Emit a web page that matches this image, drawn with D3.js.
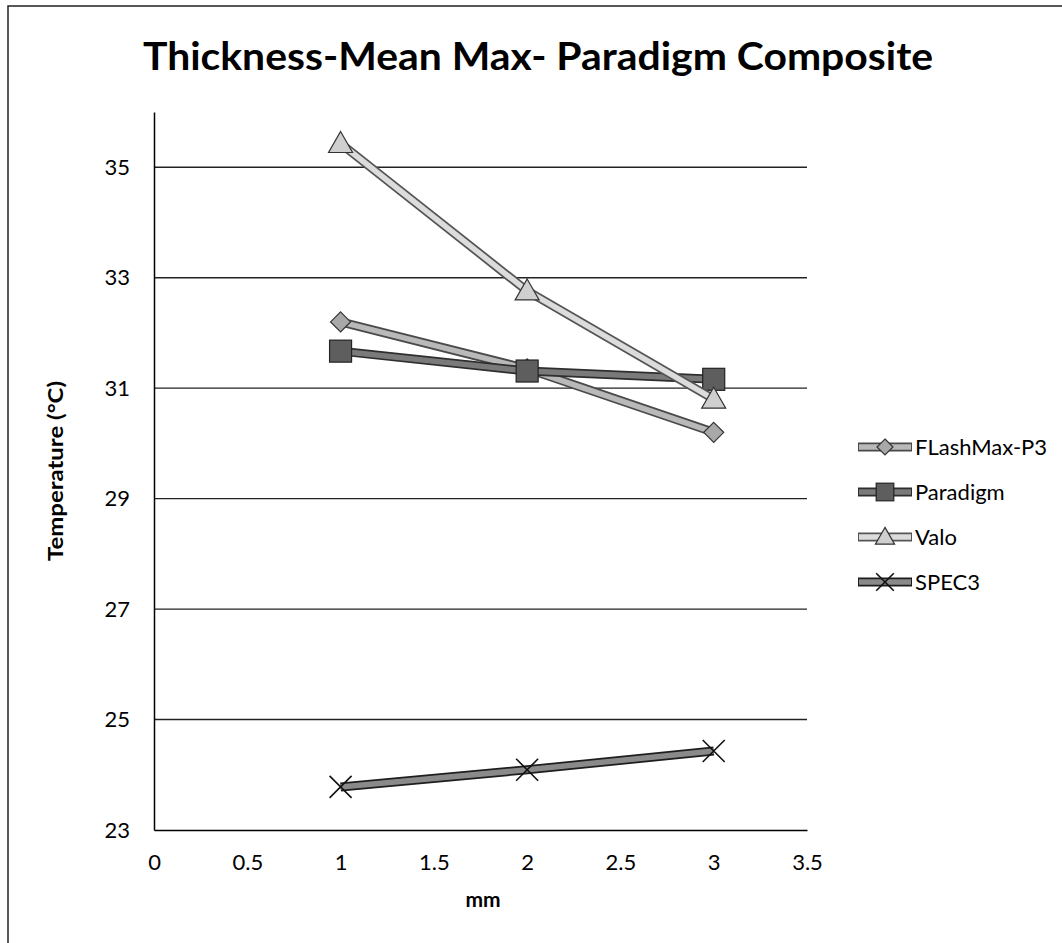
<!DOCTYPE html>
<html>
<head>
<meta charset="utf-8">
<script src="https://cdn.jsdelivr.net/npm/d3@7"></script>
<style>
  html, body { margin: 0; padding: 0; background: #fff; }
  svg { display: block; }
  text { font-family: Lato, "Open Sans", sans-serif; fill: #000; }
</style>
</head>
<body>
<svg id="chart" width="1062" height="943"></svg>
<script>
// ---- data ----
const title = "Thickness-Mean Max- Paradigm Composite";
const xLabel = "mm";
const yLabel = "Temperature (°C)";
const thickness = [1, 2, 3];
const seriesNames = ["FLashMax-P3", "Paradigm", "Valo", "SPEC3"];
const flashMax = [32.2, 31.35, 30.2];
const paradigm = [31.67, 31.31, 31.16];
const valo = [35.43, 32.76, 30.8];
const spec3 = [23.78, 24.09, 24.43];
const xTicks = [0, 0.5, 1, 1.5, 2, 2.5, 3, 3.5];
const yTicks = [23, 25, 27, 29, 31, 33, 35];

const styles = {
  "FLashMax-P3": { outer: "#4a4a4a", inner: "#b9b9b9", marker: "diamond", mfill: "#a8a8a8" },
  "Paradigm":    { outer: "#2e2e2e", inner: "#7a7a7a", marker: "square",  mfill: "#5e5e5e" },
  "Valo":        { outer: "#555555", inner: "#dcdcdc", marker: "triangle", mfill: "#cfcfcf" },
  "SPEC3":       { outer: "#1e1e1e", inner: "#8a8a8a", marker: "x",       mfill: "#000" }
};
const seriesData = [flashMax, paradigm, valo, spec3];

const svg = d3.select("#chart");
const pLeft = 154, pRight = 807, pTop = 112, pBottom = 830;
const x = d3.scaleLinear().domain([0, 3.5]).range([pLeft, pRight]);
const y = d3.scaleLinear().domain([23, 36]).range([pBottom, pTop]);

// chart border (left + top)
svg.append("path").attr("d", "M8,943 L8,6 L1062,6")
  .attr("fill", "none").attr("stroke", "#222").attr("stroke-width", 1.5);

// title
svg.append("text").attr("x", 538).attr("y", 70).attr("text-anchor", "middle")
  .attr("font-size", 39).attr("font-weight", "bold")
  .attr("textLength", 790).attr("lengthAdjust", "spacingAndGlyphs")
  .text(title);

// gridlines
svg.append("g").selectAll("line").data(yTicks.filter(d => d > 23)).join("line")
  .attr("x1", pLeft).attr("x2", pRight)
  .attr("y1", d => y(d)).attr("y2", d => y(d))
  .attr("stroke", "#222").attr("stroke-width", 1.4);

// axes
const yAxis = d3.axisLeft(y).tickValues(yTicks).tickSize(0).tickPadding(24).tickFormat(d3.format("d"));
const gy = svg.append("g").attr("transform", `translate(${pLeft},0)`).call(yAxis);
gy.select(".domain").attr("stroke", "#000").attr("stroke-width", 1.5);
gy.selectAll("text").attr("font-size", 22).attr("font-family", "Lato, sans-serif");

const xAxis = d3.axisBottom(x).tickValues(xTicks).tickSize(0).tickPadding(24).tickFormat(d => String(d));
const gx = svg.append("g").attr("transform", `translate(0,${pBottom})`).call(xAxis);
gx.select(".domain").attr("stroke", "#000").attr("stroke-width", 1.5);
gx.selectAll("text").attr("font-size", 22).attr("font-family", "Lato, sans-serif");

// axis titles
svg.append("text").attr("x", 483).attr("y", 907).attr("text-anchor", "middle")
  .attr("font-size", 21).attr("font-weight", "bold").text(xLabel);
svg.append("text").attr("transform", `translate(63,${(pTop + pBottom) / 2}) rotate(-90)`)
  .attr("text-anchor", "middle").attr("font-size", 21).attr("font-weight", "bold")
  .attr("textLength", 180).attr("lengthAdjust", "spacingAndGlyphs").text(yLabel);

// marker drawing
function drawMarker(g, type, cx, cy, st, scale = 1) {
  if (type === "diamond") {
    const s = 10 * scale;
    g.append("path").attr("d", `M${cx},${cy - s} L${cx + s},${cy} L${cx},${cy + s} L${cx - s},${cy} Z`)
      .attr("fill", st.mfill).attr("stroke", "#333").attr("stroke-width", 1.2);
  } else if (type === "square") {
    const s = 11 * scale;
    g.append("rect").attr("x", cx - s).attr("y", cy - s).attr("width", 2 * s).attr("height", 2 * s)
      .attr("fill", st.mfill).attr("stroke", "#222").attr("stroke-width", 1.2);
  } else if (type === "triangle") {
    const s = 12 * scale;
    g.append("path").attr("d", `M${cx},${cy - s} L${cx + s},${cy + s * 0.75} L${cx - s},${cy + s * 0.75} Z`)
      .attr("fill", st.mfill).attr("stroke", "#333").attr("stroke-width", 1.2);
  } else if (type === "x") {
    const s = 11 * scale;
    g.append("path").attr("d", `M${cx - s},${cy - s} L${cx + s},${cy + s} M${cx - s},${cy + s} L${cx + s},${cy - s}`)
      .attr("fill", "none").attr("stroke", "#111").attr("stroke-width", 1.6);
  }
}

const line = d3.line().x(d => x(d[0])).y(d => y(d[1]));

seriesNames.forEach((name, i) => {
  const st = styles[name];
  const pts = thickness.map((t, j) => [t, seriesData[i][j]]);
  const g = svg.append("g");
  g.append("path").datum(pts).attr("d", line).attr("fill", "none")
    .attr("stroke", st.outer).attr("stroke-width", 9).attr("stroke-linejoin", "round");
  g.append("path").datum(pts).attr("d", line).attr("fill", "none")
    .attr("stroke", st.inner).attr("stroke-width", 5.5).attr("stroke-linejoin", "round");
  pts.forEach(p => drawMarker(g, st.marker, x(p[0]), y(p[1]), st));
});

// legend
const legY = [447, 492, 537, 582];
seriesNames.forEach((name, i) => {
  const st = styles[name];
  const g = svg.append("g");
  const ly = legY[i];
  g.append("line").attr("x1", 858).attr("x2", 912).attr("y1", ly).attr("y2", ly)
    .attr("stroke", st.outer).attr("stroke-width", 9);
  g.append("line").attr("x1", 859).attr("x2", 911).attr("y1", ly).attr("y2", ly)
    .attr("stroke", st.inner).attr("stroke-width", 5.5);
  drawMarker(g, st.marker, 885, ly, st, 0.8);
  g.append("text").attr("x", 915).attr("y", ly).attr("dy", "0.36em")
    .attr("font-size", 22).text(name);
});
</script>
</body>
</html>
